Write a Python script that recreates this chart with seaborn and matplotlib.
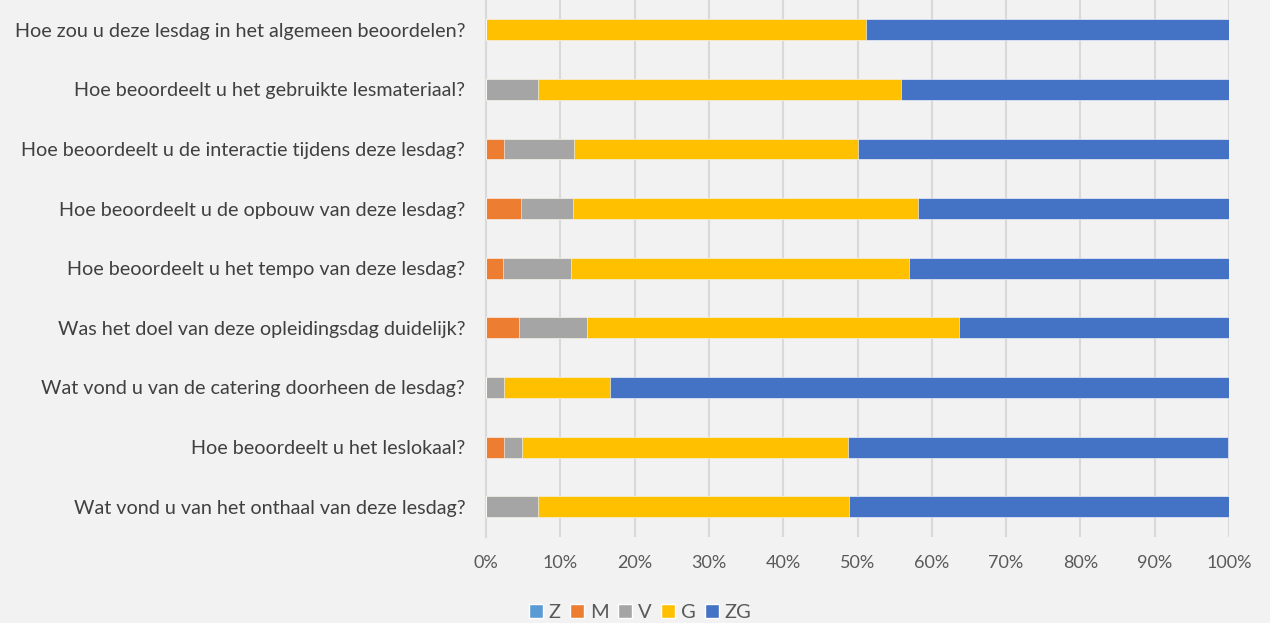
import matplotlib
matplotlib.use('Agg')
import matplotlib.pyplot as plt
from matplotlib.patches import Patch
from matplotlib.ticker import FuncFormatter
import seaborn as sns
import pandas as pd

# --- Data (percentages) ---
questions = [
    'Hoe zou u deze lesdag in het algemeen beoordelen?',
    'Hoe beoordeelt u het gebruikte lesmateriaal?',
    'Hoe beoordeelt u de interactie tijdens deze lesdag?',
    'Hoe beoordeelt u de opbouw van deze lesdag?',
    'Hoe beoordeelt u het tempo van deze lesdag?',
    'Was het doel van deze opleidingsdag duidelijk?',
    'Wat vond u van de catering doorheen de lesdag?',
    'Hoe beoordeelt u het leslokaal?',
    'Wat vond u van het onthaal van deze lesdag?',
]
z = [0, 0, 0, 0, 0, 0, 0, 0, 0]
m = [0, 0, 2.4, 4.7, 2.3, 4.5, 0, 2.4, 0]
v = [0, 7.0, 9.5, 7.0, 9.1, 9.1, 2.4, 2.4, 7.0]
g = [51.2, 48.8, 38.1, 46.5, 45.5, 50.0, 14.3, 43.9, 41.9]
zg = [48.8, 44.2, 50.0, 41.9, 43.2, 36.4, 83.3, 51.2, 51.2]

series = ['Z', 'M', 'V', 'G', 'ZG']
colors = {'Z': '#5B9BD5', 'M': '#ED7D31', 'V': '#A5A5A5', 'G': '#FFC000', 'ZG': '#4472C4'}

df = pd.DataFrame({'vraag': questions, 'Z': z, 'M': m, 'V': v, 'G': g, 'ZG': zg})
cum = df[series].cumsum(axis=1)
cum['vraag'] = df['vraag']

# --- Style ---
sns.set_theme(style='white')
plt.rcParams['font.family'] = ['Lato', 'DejaVu Sans']
bg = '#F2F2F2'

fig = plt.figure(figsize=(12.7, 6.23), dpi=100, facecolor=bg)
ax = fig.add_axes([0.3827, 0.1388, 0.5850, 0.8612])
ax.set_facecolor(bg)

# stacked bars: draw cumulative totals, largest first
for s in reversed(series):
    sns.barplot(data=cum, x=s, y='vraag', orient='h', color=colors[s],
                width=0.35, ax=ax, edgecolor='#FFFFFF', linewidth=0.4,
                saturation=1, zorder=3)

ax.set_xlim(0, 100)
ax.set_xticks(range(0, 101, 10))
ax.xaxis.set_major_formatter(FuncFormatter(lambda x, p: f'{int(x)}%'))
ax.grid(axis='x', color='#D9D9D9', linewidth=1.5, zorder=0)
ax.set_axisbelow(True)
for sp in ['top', 'right', 'bottom']:
    ax.spines[sp].set_visible(False)
ax.spines['left'].set_color('#D9D9D9')
ax.spines['left'].set_linewidth(1.5)
ax.set_xlabel('')
ax.set_ylabel('')
ax.tick_params(axis='x', length=0, pad=13, labelsize=13, labelcolor='#595959')
ax.tick_params(axis='y', length=0, pad=15, labelsize=14.2, labelcolor='#404040')

handles = [Patch(facecolor=colors[s], label=s) for s in series]
fig.legend(handles=handles, loc='center', ncol=5, frameon=False,
           bbox_to_anchor=(0.504, 0.017), fontsize=14.5, handlelength=0.7,
           handleheight=0.75, handletextpad=0.3, columnspacing=0.45,
           labelcolor='#595959', borderpad=0)

fig.savefig('out.png', dpi=100, facecolor=bg)
